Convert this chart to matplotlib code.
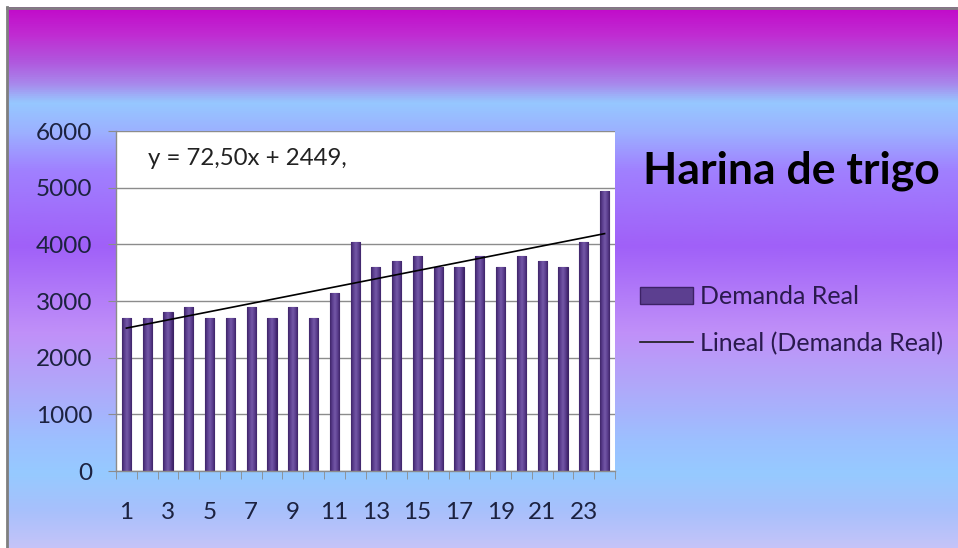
import numpy as np
import matplotlib
matplotlib.use("Agg")
import matplotlib.pyplot as plt
from matplotlib.colors import LinearSegmentedColormap
from matplotlib.patches import Patch
from matplotlib.lines import Line2D

# ---- data ----
periods = list(range(1, 25))
demanda_real = [2700, 2700, 2800, 2900, 2700, 2700, 2900, 2700, 2900, 2700,
                3150, 4050, 3600, 3700, 3800, 3600, 3600, 3800, 3600, 3800,
                3700, 3600, 4050, 4950]
tick_labels = [str(p) if p % 2 == 1 else "" for p in periods]
trend_slope = 72.50
trend_intercept = 2449
title = "Harina de trigo"
series_name = "Demanda Real"
trend_name = "Lineal (Demanda Real)"
equation = "y = 72,50x + 2449,"

plt.rcParams["font.family"] = ["Lato", "DejaVu Sans"]

W, H = 958, 548
fig = plt.figure(figsize=(W / 100, H / 100), dpi=100)
fig.patch.set_facecolor("white")

# ---- background gradient panel ----
bg = fig.add_axes([0, 0, 1, 1])
bg.set_xlim(0, W)
bg.set_ylim(H, 0)
bg.axis("off")
stops = [
    (0.00, "#C20ACA"), (0.05, "#C02CD2"), (0.10, "#B058DE"), (0.14, "#A888EC"),
    (0.175, "#96C8FF"), (0.23, "#9CB0FF"), (0.30, "#A080FF"), (0.44, "#A060F8"),
    (0.52, "#B078F8"), (0.60, "#C090F8"), (0.70, "#B0A8FA"), (0.80, "#9CC0FF"),
    (0.86, "#96CAFF"), (0.93, "#A8C0FC"), (1.00, "#C6C4F8"),
]
bg_cmap = LinearSegmentedColormap.from_list("bg", stops)
grad = np.linspace(0, 1, 512).reshape(-1, 1)
bg.imshow(grad, cmap=bg_cmap, aspect="auto", extent=(8, W + 2, H + 2, 7),
          interpolation="bilinear", zorder=0)
bg.set_xlim(0, W)
bg.set_ylim(H, 0)
bg.plot([7.5, 7.5], [7, H], color="#7F7F7F", lw=2, zorder=1)
bg.plot([7, W], [7.5, 7.5], color="#7F7F7F", lw=2, zorder=1)

# ---- plot area ----
L, R, T, B = 116, 615, 131, 471
ax = fig.add_axes([L / W, 1 - B / H, (R - L) / W, (B - T) / H])
ax.set_facecolor("white")
ax.set_yticks(range(0, 6001, 1000))
ax.yaxis.grid(True, color="#8C8C8C", lw=1)
ax.set_axisbelow(True)
for s in ("top", "right"):
    ax.spines[s].set_visible(False)
for s in ("left", "bottom"):
    ax.spines[s].set_color("#8C8C8C")
    ax.spines[s].set_linewidth(1)

text_col = "#1C2240"
ax.set_xticks(periods)
ax.set_xticklabels(tick_labels)
ax.set_xticks(np.arange(0.5, 25, 1), minor=True)
ax.tick_params(axis="x", which="major", length=0, pad=22, labelsize=17.5,
               labelcolor=text_col)
ax.tick_params(axis="x", which="minor", length=6, color="#8C8C8C", direction="out")
ax.tick_params(axis="y", length=6, color="#8C8C8C", pad=11, labelsize=17.5,
               labelcolor=text_col)

# bars with a horizontal shading
bar_w = 0.44
bars = ax.bar(periods, demanda_real, width=bar_w, color="#563A88",
              edgecolor="#3C2266", lw=0.8, zorder=2)
shade = LinearSegmentedColormap.from_list(
    "bar", ["#3E2468", "#5C3F90", "#7458A6", "#5C3F90", "#3E2468"])
hgrad = np.linspace(0, 1, 64).reshape(1, -1)
for rect in bars:
    x0, w, h = rect.get_x(), rect.get_width(), rect.get_height()
    im = ax.imshow(hgrad, cmap=shade, aspect="auto",
                   extent=(x0, x0 + w, 0, h), zorder=2.5, interpolation="bilinear")
    im.set_clip_path(rect)
ax.set_xlim(0.5, 24.5)
ax.set_ylim(0, 6000)

# linear trend line
tx = np.array([periods[0], periods[-1]])
ax.plot(tx, trend_slope * tx + trend_intercept, color="black", lw=1.2, zorder=3)

ax.text(0.064, 0.92, equation, transform=ax.transAxes, fontsize=17.3,
        color="#222222", va="center", ha="left")

# ---- title and legend ----
fig.text(643 / W, 1 - 171 / H, title, fontsize=32, fontweight="bold",
         color="black", ha="left", va="center")

handles = [Patch(facecolor="#5C3F90", edgecolor="#3C2266", lw=1),
           Line2D([0], [0], color="#1a1a1a", lw=1.2)]
fig.legend(handles, [series_name, trend_name], loc="upper left",
           bbox_to_anchor=(640 / W, 1 - 285 / H), frameon=False, fontsize=18,
           handlelength=2.1, handletextpad=0.3, labelspacing=0.95,
           labelcolor="#2A1A4E", borderpad=0, borderaxespad=0)

fig.savefig("out.png", dpi=100)
